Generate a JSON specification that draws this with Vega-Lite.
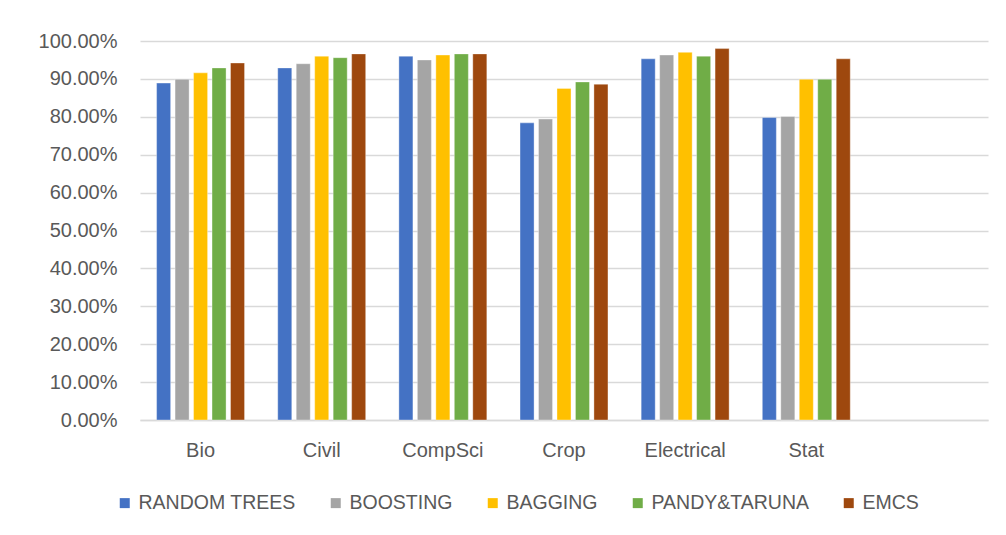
{
  "$schema": "https://vega.github.io/schema/vega-lite/v6.json",
  "width": 848,
  "height": 379,
  "autosize": {"type": "none"},
  "padding": {"left": 140, "top": 41, "right": 18, "bottom": 115},
  "background": "white",
  "config": {
    "view": {"stroke": null},
    "font": "Liberation Sans",
    "axis": {"labelFont": "Liberation Sans", "labelColor": "#595959", "labelFontSize": 20}
  },
  "data": {
    "values": [
      {"dept": "Bio", "method": "RANDOM TREES", "acc": 0.889},
      {"dept": "Bio", "method": "BOOSTING", "acc": 0.899},
      {"dept": "Bio", "method": "BAGGING", "acc": 0.916},
      {"dept": "Bio", "method": "PANDY&TARUNA", "acc": 0.929},
      {"dept": "Bio", "method": "EMCS", "acc": 0.942},
      {"dept": "Civil", "method": "RANDOM TREES", "acc": 0.929},
      {"dept": "Civil", "method": "BOOSTING", "acc": 0.940},
      {"dept": "Civil", "method": "BAGGING", "acc": 0.960},
      {"dept": "Civil", "method": "PANDY&TARUNA", "acc": 0.956},
      {"dept": "Civil", "method": "EMCS", "acc": 0.966},
      {"dept": "CompSci", "method": "RANDOM TREES", "acc": 0.960},
      {"dept": "CompSci", "method": "BOOSTING", "acc": 0.950},
      {"dept": "CompSci", "method": "BAGGING", "acc": 0.963},
      {"dept": "CompSci", "method": "PANDY&TARUNA", "acc": 0.966},
      {"dept": "CompSci", "method": "EMCS", "acc": 0.966},
      {"dept": "Crop", "method": "RANDOM TREES", "acc": 0.784},
      {"dept": "Crop", "method": "BOOSTING", "acc": 0.794},
      {"dept": "Crop", "method": "BAGGING", "acc": 0.875},
      {"dept": "Crop", "method": "PANDY&TARUNA", "acc": 0.892},
      {"dept": "Crop", "method": "EMCS", "acc": 0.886},
      {"dept": "Electrical", "method": "RANDOM TREES", "acc": 0.953},
      {"dept": "Electrical", "method": "BOOSTING", "acc": 0.963},
      {"dept": "Electrical", "method": "BAGGING", "acc": 0.970},
      {"dept": "Electrical", "method": "PANDY&TARUNA", "acc": 0.960},
      {"dept": "Electrical", "method": "EMCS", "acc": 0.980},
      {"dept": "Stat", "method": "RANDOM TREES", "acc": 0.798},
      {"dept": "Stat", "method": "BOOSTING", "acc": 0.801},
      {"dept": "Stat", "method": "BAGGING", "acc": 0.899},
      {"dept": "Stat", "method": "PANDY&TARUNA", "acc": 0.899},
      {"dept": "Stat", "method": "EMCS", "acc": 0.953}
    ]
  },
  "mark": {"type": "bar", "stroke": "white", "strokeWidth": 0.6, "strokeOpacity": 0.6},
  "encoding": {
    "x": {
      "field": "dept",
      "type": "nominal",
      "sort": null,
      "scale": {"domain": ["Bio", "Civil", "CompSci", "Crop", "Electrical", "Stat", " "], "paddingInner": 0.274, "paddingOuter": 0.137},
      "axis": {"title": null, "labelAngle": 0, "ticks": false, "domain": true, "domainColor": "#D9D9D9", "domainWidth": 1.5, "labelPadding": 20}
    },
    "xOffset": {
      "field": "method",
      "type": "nominal",
      "sort": ["RANDOM TREES", "BOOSTING", "BAGGING", "PANDY&TARUNA", "EMCS"],
      "scale": {"paddingInner": 0.24, "paddingOuter": 0}
    },
    "y": {
      "field": "acc",
      "type": "quantitative",
      "scale": {"domain": [0, 1], "nice": false},
      "axis": {"title": null, "format": ".2%", "values": [0, 0.1, 0.2, 0.3, 0.4, 0.5, 0.6, 0.7, 0.8, 0.9, 1], "ticks": false, "domain": false, "gridColor": "#D9D9D9", "gridWidth": 1.5, "labelPadding": 23}
    },
    "color": {
      "field": "method",
      "type": "nominal",
      "sort": ["RANDOM TREES", "BOOSTING", "BAGGING", "PANDY&TARUNA", "EMCS"],
      "scale": {"domain": ["RANDOM TREES", "BOOSTING", "BAGGING", "PANDY&TARUNA", "EMCS"], "range": ["#4472C4", "#A5A5A5", "#FFC000", "#70AD47", "#9E480E"]},
      "legend": {
        "title": null,
        "orient": "none",
        "direction": "horizontal",
        "legendX": -25,
        "legendY": 452,
        "symbolType": "square",
        "symbolSize": 100,
        "symbolStrokeWidth": 0,
        "labelFontSize": 19.5,
        "labelColor": "#595959",
        "labelFont": "Liberation Sans",
        "labelOffset": 4,
        "columnPadding": 30,
        "labelLimit": 300
      }
    }
  }
}
